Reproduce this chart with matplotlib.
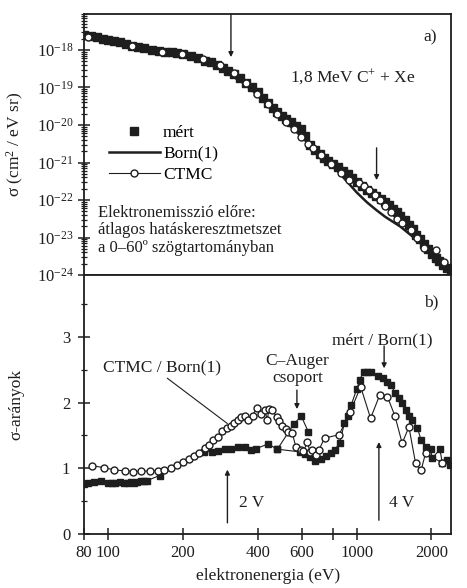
import numpy as np
import matplotlib
matplotlib.use("Agg")
import matplotlib.pyplot as plt
from matplotlib.ticker import FixedLocator, FuncFormatter, NullFormatter, NullLocator
from matplotlib.lines import Line2D

plt.rcParams['font.family'] = ['Liberation Serif', 'DejaVu Serif']
plt.rcParams['mathtext.fontset'] = 'custom'
plt.rcParams['mathtext.rm'] = 'Liberation Serif'
plt.rcParams['mathtext.it'] = 'Liberation Serif:italic'
plt.rcParams['font.size'] = 12

INK = '#1e1e1e'

# ---------------- panel a) data ----------------
mert_E = [80, 85, 90, 95, 100, 106, 112, 118, 125, 132, 140, 150, 160, 170, 180, 190, 200,
          215, 230, 245, 260, 275, 290, 305, 320, 340, 360, 380, 400, 420, 440, 460, 480,
          500, 520, 545, 570, 595, 620, 650, 680, 710, 740, 770, 800, 840, 880, 920, 960,
          1000, 1050, 1100, 1150, 1200, 1250, 1300, 1350, 1400, 1450, 1500, 1560, 1620,
          1680, 1740, 1800, 1870, 1940, 2010, 2080, 2150, 2230, 2310, 2390]
mert_sigma = [2.5e-18, 2.3e-18, 2.2e-18, 2.0e-18, 1.9e-18, 1.75e-18, 1.6e-18, 1.45e-18,
              1.3e-18, 1.2e-18, 1.1e-18, 1.02e-18, 9.5e-19, 9.1e-19, 8.7e-19, 8.1e-19,
              7.6e-19, 6.8e-19, 6.0e-19, 5.2e-19, 4.7e-19, 4.0e-19, 3.4e-19, 2.75e-19,
              2.35e-19, 1.8e-19, 1.35e-19, 1.0e-19, 7.4e-20, 5.2e-20, 3.8e-20, 2.8e-20,
              2.2e-20, 1.74e-20, 1.45e-20, 1.17e-20, 9.5e-21, 7.9e-21, 5.2e-21, 3.0e-21,
              2.2e-21, 1.66e-21, 1.32e-21, 1.1e-21, 9.1e-22, 7.4e-22, 6.0e-22, 4.8e-22,
              3.8e-22, 3.1e-22, 2.4e-22, 1.9e-22, 1.55e-22, 1.3e-22, 1.07e-22, 8.9e-23,
              7.4e-23, 5.9e-23, 4.7e-23, 3.7e-23, 2.9e-23, 2.2e-23, 1.66e-23, 1.2e-23,
              9.1e-24, 6.8e-24, 5.0e-24, 3.7e-24, 2.8e-24, 2.3e-24, 1.86e-24, 1.5e-24,
              1.17e-24]

born_E = [80, 100, 130, 160, 200, 250, 300, 350, 400, 450, 500, 600, 700, 800, 900,
          1000, 1100, 1200, 1300, 1500, 1750, 2050, 2400]
born_sigma = [2.5e-18, 1.86e-18, 1.26e-18, 9.5e-19, 7.2e-19, 4.7e-19, 2.5e-19, 1.32e-19,
              6.3e-20, 3.0e-20, 1.5e-20, 5.0e-21, 1.9e-21, 8.3e-22, 3.5e-22, 1.6e-22,
              8.7e-23, 5.4e-23, 3.6e-23, 1.95e-23, 8.5e-24, 3.8e-24, 1.26e-24]

ctmc_E = [83, 125, 164, 199, 240, 281, 321, 360, 398, 438, 479, 520, 560, 595, 637, 668,
          718, 787, 862, 930, 1023, 1075, 1121, 1180, 1240, 1300, 1372, 1458, 1525, 1650,
          1750, 1869, 2078, 2250]
ctmc_sigma = [2.2e-18, 1.29e-18, 8.9e-19, 7.6e-19, 5.6e-19, 4.0e-19, 2.4e-19, 1.29e-19,
              6.6e-20, 3.6e-20, 2.0e-20, 1.2e-20, 7.6e-21, 4.9e-21, 3.1e-21, 2.4e-21,
              1.58e-21, 9.1e-22, 5.4e-22, 3.4e-22, 2.9e-22, 2.4e-22, 1.86e-22, 1.35e-22,
              1.0e-22, 7.1e-23, 4.9e-23, 3.2e-23, 2.45e-23, 1.58e-23, 1.0e-23, 5.1e-24,
              4.6e-24, 2.2e-24]

y_ticks_a = [1e-24, 1e-23, 1e-22, 1e-21, 1e-20, 1e-19, 1e-18]

# ---------------- panel b) data ----------------
ratio_ctmc_E = [86, 96, 106, 117, 126, 136, 147, 158, 168, 179, 190, 201, 212, 222, 233,
                245, 254, 265, 276, 288, 300, 311, 321, 333, 344, 355, 366, 381, 396, 411,
                427, 437, 444, 458, 477, 487, 503, 518, 530, 551, 569, 595, 611, 634, 649,
                662, 684, 705, 743, 850, 940, 1038, 1138, 1240, 1329, 1425, 1525, 1623,
                1726, 1818, 1893, 2210]
ratio_ctmc = [1.04, 1.01, 0.975, 0.96, 0.95, 0.955, 0.96, 0.96, 0.975, 1.01, 1.05, 1.09,
              1.14, 1.18, 1.23, 1.31, 1.36, 1.43, 1.48, 1.56, 1.61, 1.64, 1.69, 1.73, 1.78,
              1.79, 1.74, 1.80, 1.92, 1.82, 1.88, 1.74, 1.90, 1.88, 1.78, 1.72, 1.65, 1.60,
              1.55, 1.53, 1.33, 1.28, 1.26, 1.40, 1.25, 1.28, 1.20, 1.28, 1.46, 1.51, 1.85,
              2.24, 1.76, 2.12, 2.09, 1.80, 1.38, 1.63, 1.08, 0.97, 1.23, 1.08]

ratio_mert_E = [80, 83, 88, 93.5, 99.5, 104, 107, 112, 116, 120, 124, 127, 131, 135, 139,
                143, 161, 243, 261, 277, 294, 313, 333, 355, 377, 395, 440, 480, 590, 620,
                650, 683, 716, 750, 787, 816, 856, 893, 920, 950, 1000, 1030, 1067, 1100,
                1138, 1217, 1273, 1329, 1373, 1430, 1478, 1525, 1576, 1623, 1674, 1756,
                1818, 1893, 1983, 2014, 2163, 2212, 2318, 2372]
ratio_mert = [0.76, 0.77, 0.79, 0.80, 0.78, 0.78, 0.78, 0.79, 0.78, 0.78, 0.79, 0.78, 0.79,
              0.80, 0.80, 0.81, 0.89, 1.25, 1.25, 1.26, 1.29, 1.30, 1.33, 1.32, 1.28, 1.30,
              1.37, 1.29, 1.25, 1.22, 1.17, 1.11, 1.14, 1.18, 1.23, 1.28, 1.39, 1.69, 1.79,
              1.96, 2.20, 2.35, 2.47, 2.47, 2.46, 2.40, 2.37, 2.32, 2.27, 2.14, 2.07, 1.99,
              1.89, 1.79, 1.74, 1.61, 1.43, 1.33, 1.30, 1.15, 1.29, 1.08, 1.13, 1.05]

auger_E = [480, 560, 599, 640]
auger_ratio = [1.29, 1.68, 1.79, 1.55]

x_ticks = [80, 100, 200, 400, 600, 800, 1000, 2000]
x_ticklabels = ['80', '100', '200', '400', '600', '', '1000', '2000']
y_ticks_b = [0, 1, 2, 3]
y_minor_b = [0.5, 1.5, 2.5, 3.5]

# ---------------- figure ----------------
fig = plt.figure(figsize=(4.67, 5.88), dpi=100)
ax1 = fig.add_axes([0.180, 0.5323, 0.786, 0.4439])
ax2 = fig.add_axes([0.180, 0.0918, 0.786, 0.4405])

for ax in (ax1, ax2):
    ax.set_xscale('log')
    ax.set_xlim(80, 2400)
    for s in ax.spines.values():
        s.set_linewidth(1.3)
        s.set_color(INK)

# panel a
ax1.set_yscale('log')
ax1.set_ylim(1e-24, 10 ** -17.04)
ax1.plot(mert_E, mert_sigma, ls='none', marker='s', ms=6.2, color=INK, mec=INK, zorder=3)
ax1.plot(born_E, born_sigma, '-', lw=1.8, color=INK, zorder=2)
ax1.plot(ctmc_E, ctmc_sigma, '-', lw=0.8, color=INK, marker='o', ms=5.0, mfc='white',
         mec=INK, mew=1.0, zorder=4)

ax1.xaxis.set_major_locator(NullLocator())
ax1.xaxis.set_minor_locator(NullLocator())
ax1.yaxis.set_major_locator(FixedLocator(y_ticks_a))
minor_a = [m * t for t in y_ticks_a[:-1] for m in range(2, 10)] + \
          [m * y_ticks_a[-1] for m in range(2, 10)]
ax1.yaxis.set_minor_locator(FixedLocator(minor_a))
ax1.yaxis.set_minor_formatter(NullFormatter())
ax1.yaxis.set_major_formatter(FuncFormatter(
    lambda v, p: r'$\mathregular{10^{%d}}$' % int(round(np.log10(v)))))
ax1.tick_params(axis='y', which='major', direction='inout', length=9, width=1.1, colors=INK,
                labelsize=12, pad=3)
ax1.tick_params(axis='y', which='minor', direction='inout', length=5, width=0.9, colors=INK)
ax1.set_ylabel(r'σ (cm$^2$ / eV sr)', fontsize=12.5, color=INK)
ax1.yaxis.set_label_coords(-0.158, 0.5)

handles = [Line2D([], [], ls='none', marker='s', ms=6.2, color=INK),
           Line2D([], [], ls='-', lw=1.8, color=INK),
           Line2D([], [], ls='-', lw=0.8, color=INK, marker='o', ms=5.0, mfc='white', mec=INK)]
ax1.legend(handles, ['mért', 'Born(1)', 'CTMC'], loc='upper left',
           bbox_to_anchor=(0.045, 0.61), frameon=False, handlelength=2.9,
           handletextpad=0.2, labelspacing=0.3, borderpad=0, fontsize=12.5)

ax1.text(0.038, 0.27, 'Elektronemisszió előre:\nátlagos hatáskeresztmetszet\na 0–60º szögtartományban',
         transform=ax1.transAxes, ha='left', va='top', fontsize=12, color=INK, linespacing=1.15)
ax1.text(0.733, 0.759, r'1,8 MeV C$^{+}$ + Xe', transform=ax1.transAxes, ha='center',
         va='center', fontsize=12.5, color=INK)
ax1.text(0.943, 0.912, 'a)', transform=ax1.transAxes, ha='center', va='center',
         fontsize=12.5, color=INK)

arrow_kw = dict(arrowstyle='-|>', lw=1.0, color=INK, mutation_scale=7, shrinkA=0, shrinkB=0)
ax1.annotate('', xy=(312, 10 ** -18.19), xytext=(312, 10 ** -17.04), arrowprops=arrow_kw)
ax1.annotate('', xy=(1203, 10 ** -21.47), xytext=(1203, 10 ** -20.61), arrowprops=arrow_kw)

# panel b
ax2.set_ylim(0, 3.94)
ax2.plot(ratio_mert_E, ratio_mert, '-', lw=0.8, color=INK, marker='s', ms=4.8, mec=INK, zorder=3)
ax2.plot(auger_E, auger_ratio, '-', lw=0.8, color=INK, marker='s', ms=4.8, mec=INK, zorder=3)
ax2.plot(ratio_ctmc_E, ratio_ctmc, '-', lw=0.8, color=INK, marker='o', ms=5.0, mfc='white',
         mec=INK, mew=1.0, zorder=4)

ax2.set_xticks(x_ticks)
ax2.set_xticklabels(x_ticklabels)
ax2.xaxis.set_minor_locator(NullLocator())
ax2.set_yticks(y_ticks_b)
ax2.yaxis.set_minor_locator(FixedLocator(y_minor_b))
ax2.tick_params(axis='both', which='major', direction='inout', length=8, width=1.1, colors=INK,
                labelsize=12)
ax2.tick_params(axis='y', which='minor', direction='inout', length=5, width=0.9, colors=INK)
ax2.tick_params(axis='x', pad=4)
ax2.tick_params(axis='y', pad=6)
ax2.set_xlabel('elektronenergia (eV)', fontsize=12.5, color=INK, labelpad=5)
ax2.set_ylabel('σ-arányok', fontsize=12.5, color=INK)
ax2.yaxis.set_label_coords(-0.163, 0.5)

ax2.text(1995, 3.53, 'b)', ha='center', va='center', fontsize=12.5, color=INK)
ax2.text(164, 2.52, 'CTMC / Born(1)', ha='center', va='center', fontsize=12.5, color=INK)
ax2.annotate('', xy=(302, 1.68), xytext=(173, 2.37),
             arrowprops=dict(arrowstyle='-', lw=0.8, color=INK, shrinkA=0, shrinkB=0))
ax2.text(578, 2.5, 'C–Auger\ncsoport', ha='center', va='center', fontsize=12.5, color=INK,
         linespacing=1.05)
ax2.annotate('', xy=(575, 1.90), xytext=(575, 2.19), arrowprops=arrow_kw)
ax2.text(1273, 2.95, 'mért / Born(1)', ha='center', va='center', fontsize=12.5, color=INK)
ax2.annotate('', xy=(1290, 2.52), xytext=(1290, 2.86), arrowprops=arrow_kw)

ax2.annotate('', xy=(302, 0.98), xytext=(302, 0.17), arrowprops=arrow_kw)
ax2.text(336, 0.47, '2 V', ha='left', va='center', fontsize=12.5, color=INK)
ax2.annotate('', xy=(1229, 1.40), xytext=(1229, 0.21), arrowprops=arrow_kw)
ax2.text(1349, 0.47, '4 V', ha='left', va='center', fontsize=12.5, color=INK)

fig.savefig('out.png', dpi=100, facecolor='white')
